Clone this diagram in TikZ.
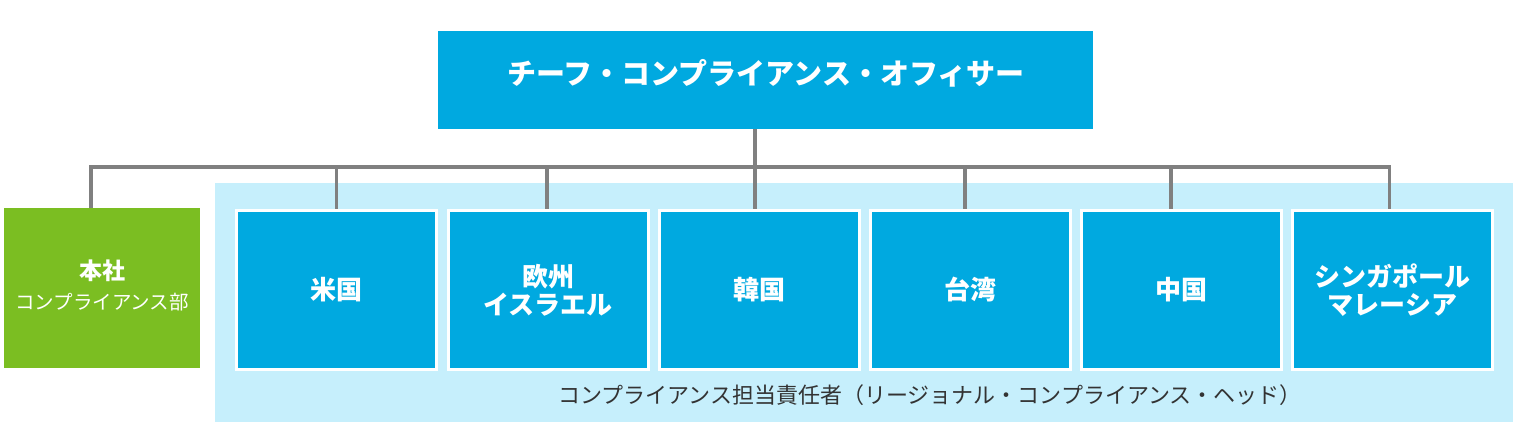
\documentclass[tikz,border=0pt]{standalone}
\usepackage{fontspec}
\newfontfamily\jp{Noto Sans CJK JP}
\definecolor{cblue}{RGB}{0,169,224}
\definecolor{cbg}{RGB}{198,239,252}
\definecolor{cgreen}{RGB}{123,190,34}
\definecolor{cline}{RGB}{128,128,128}
\definecolor{ctext}{RGB}{51,51,51}
\tikzset{
  region/.style={fill=cblue, draw=white, line width=3pt, minimum width=200pt, minimum height=159pt, inner sep=0pt, align=center, text=white, font=\jp\bfseries\fontsize{26}{28}\selectfont},
  conn/.style={draw=cline, line width=3.5pt},
}
\begin{document}
\begin{tikzpicture}[x=1pt,y=-1pt]
\useasboundingbox (0,0) rectangle (1513,423);
\fill[cbg] (215,183) rectangle (1513,422);
\node[fill=cblue, minimum width=655pt, minimum height=98pt, inner sep=0pt] (cco) at (765.5,80) {};
\node[text=white, font=\jp\bfseries\fontsize{29}{34}\selectfont] (ccot) at (766,73) {チーフ・コンプライアンス・オフィサー};
\node[fill=cgreen, minimum width=196pt, minimum height=160pt, inner sep=0pt] (hq) at (102,288) {};
\node[text=white, font=\jp\bfseries\fontsize{23}{26}\selectfont] (hqt1) at (102,271) {本社};
\node[text=white, font=\jp\fontsize{19.5}{22}\selectfont] (hqt2) at (102,302) {コンプライアンス部};
\node[region] (r1) at (336.5,290) {米国};
\node[region] (r2) at (548,290) {欧州\\イスラエル};
\node[region] (r3) at (759,290) {韓国};
\node[region] (r4) at (970,290) {台湾};
\node[region] (r5) at (1181,290) {中国};
\node[region] (r6) at (1392.5,290) {シンガポール\\マレーシア};
\node[text=ctext, font=\jp\fontsize{22}{26}\selectfont] (lbl) at (930,395) {コンプライアンス担当責任者（リージョナル・コンプライアンス・ヘッド）};
\coordinate (bus) at (0,167);
\coordinate (d0) at ([xshift=-11pt]hq.north);
\coordinate (d1) at (r1.north);
\coordinate (d2) at ([xshift=-1pt]r2.north);
\coordinate (d3) at ([xshift=-4pt]r3.north);
\coordinate (d4) at ([xshift=-5pt]r4.north);
\coordinate (d5) at ([xshift=-10pt]r5.north);
\coordinate (d6) at ([xshift=-3pt]r6.north);
\draw[conn] (d0) |- (bus -| d6) -- (d6);
\draw[conn] (d3 |- cco.south) -- (d3);
\draw[conn] (d1 |- bus) -- (d1);
\draw[conn] (d2 |- bus) -- (d2);
\draw[conn] (d4 |- bus) -- (d4);
\draw[conn] (d5 |- bus) -- (d5);
\end{tikzpicture}
\end{document}
